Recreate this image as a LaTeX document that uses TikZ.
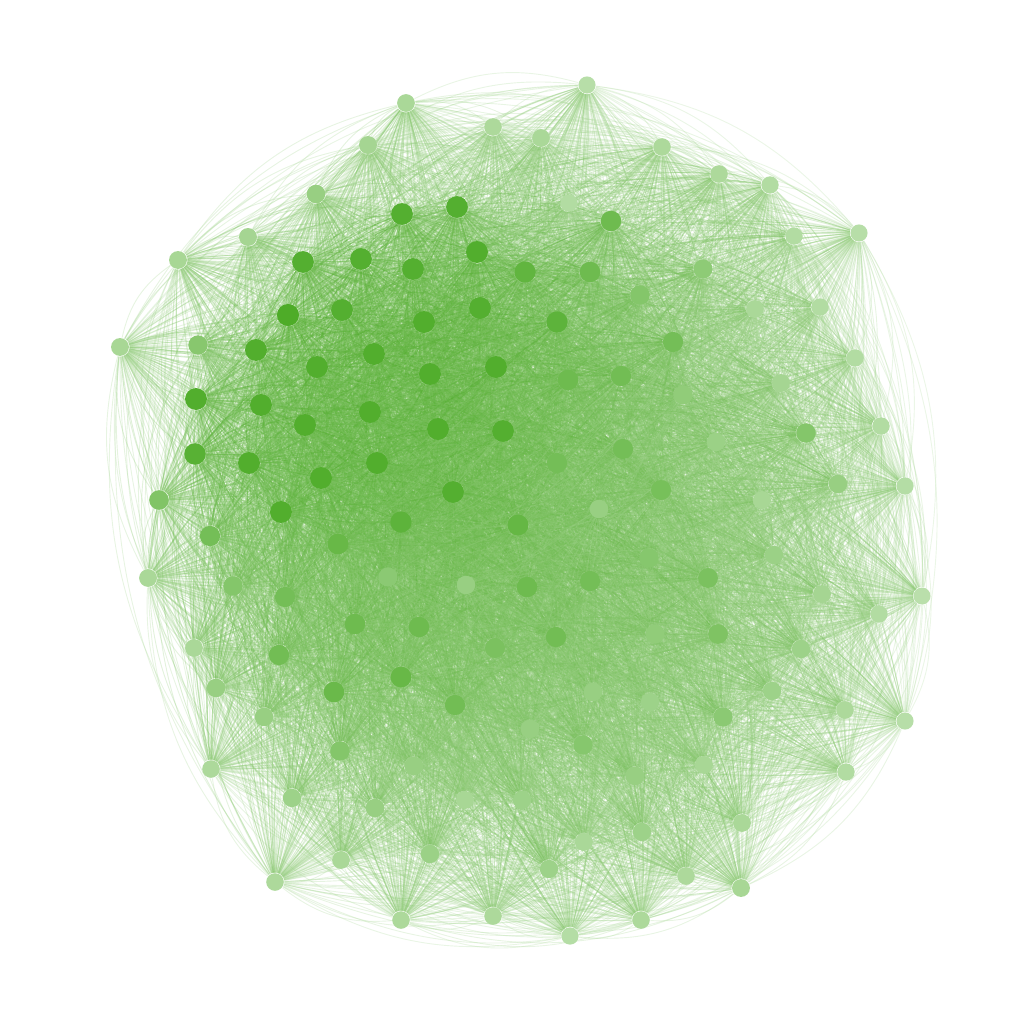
\documentclass[tikz,border=0pt]{standalone}
\usetikzlibrary{backgrounds}
\definecolor{gdark}{RGB}{78,172,40}
\definecolor{glight}{RGB}{206,233,196}
\begin{document}
\begin{tikzpicture}[x=0.01cm,y=-0.01cm,
  gnode/.style={circle,inner sep=0pt,draw=none},
  gedge/.style={line width=0.26pt,draw opacity=0.28}]
\useasboundingbox (0,0) rectangle (1024,1024);
\foreach \x/\y/\s [count=\k] in {
587/85/82, 406/103/72, 493/127/74, 541/138/72, 368/145/68, 662/147/74, 719/174/74, 770/185/78,
316/194/58, 859/233/82, 794/236/78, 248/237/68, 178/260/70, 820/307/78, 120/347/70, 855/358/78,
881/426/78, 905/486/80, 159/500/40, 922/596/84, 148/578/72, 879/614/78, 905/721/82, 846/772/78,
194/648/72, 216/688/58, 211/769/74, 292/798/62, 275/882/74, 341/860/72, 401/920/74, 493/916/74,
570/936/80, 641/920/74, 741/888/70, 686/876/74, 742/823/72, 845/710/74,
402/214/5, 457/207/5, 477/252/3, 413/269/5, 361/259/5, 303/262/5, 288/315/0, 342/310/5,
424/322/3, 480/308/5, 525/272/15, 590/272/25, 569/203/78, 611/221/25, 256/350/3, 317/367/3,
374/354/3, 430/374/3, 496/367/3, 557/322/12, 640/295/42, 673/342/30, 198/345/45, 196/399/3,
261/405/3, 305/425/3, 370/412/3, 438/429/3, 503/431/5, 568/380/25, 621/376/28, 195/454/8,
249/463/3, 321/478/3, 377/463/3, 453/492/5, 557/463/30, 623/449/30, 683/395/52, 703/269/50,
755/309/72, 781/383/68, 806/433/42, 838/484/58, 762/500/70, 661/490/32, 716/442/60, 281/512/3,
338/544/20, 401/522/12, 518/525/18, 210/536/30, 233/586/42, 285/597/30, 388/577/48, 466/585/58,
527/587/25, 590/581/30, 649/558/44, 708/578/35, 774/555/60, 822/594/68, 355/624/25, 419/627/25,
495/648/35, 556/637/28, 655/634/52, 718/634/38, 801/649/62, 279/655/28, 334/692/22, 401/677/20,
455/705/28, 530/729/58, 593/692/58, 650/702/62, 723/717/48, 772/691/62, 264/717/58, 340/751/42,
414/766/58, 583/745/44, 635/776/58, 704/765/70, 375/808/58, 465/800/70, 522/800/62, 430/854/60,
549/869/62, 584/842/72, 642/832/62, 599/509/58} {
  \pgfmathsetmacro\dia{0.22-0.0006*\s}
  \node[gnode, fill=glight!\s!gdark, minimum size=\dia cm] (n\k) at (\x,\y) {};
  \expandafter\xdef\csname sh\k\endcsname{\s}
  \expandafter\xdef\csname px\k\endcsname{\x}
  \expandafter\xdef\csname py\k\endcsname{\y}
}
\pgfmathsetseed{11}
\begin{pgfonlayer}{background}
\foreach \i [evaluate=\i as \nx using int(\i+1)] in {1,...,129} {
  \edef\shi{\csname sh\i\endcsname}\edef\xa{\csname px\i\endcsname}\edef\ya{\csname py\i\endcsname}
  \foreach \j in {\nx,...,130} {
    \edef\shj{\csname sh\j\endcsname}\edef\xb{\csname px\j\endcsname}\edef\yb{\csname py\j\endcsname}
    \pgfmathtruncatemacro\ec{(\shi+\shj)/2}
    \ifnum\j<39
      \pgfmathtruncatemacro\side{((\yb-\ya)/100)*((530-(\xa+\xb)/2)/100)+((\xb-\xa)/100)*(((\ya+\yb)/2-520)/100)>0}
    \else
      \pgfmathtruncatemacro\side{rnd<0.5}
    \fi
    \ifnum\side=1
      \draw[gedge, draw=glight!\ec!gdark] (n\i) to[bend right=21] (n\j);
    \else
      \draw[gedge, draw=glight!\ec!gdark] (n\i) to[bend left=21] (n\j);
    \fi
  }
}
\end{pgfonlayer}
\end{tikzpicture}
\end{document}
